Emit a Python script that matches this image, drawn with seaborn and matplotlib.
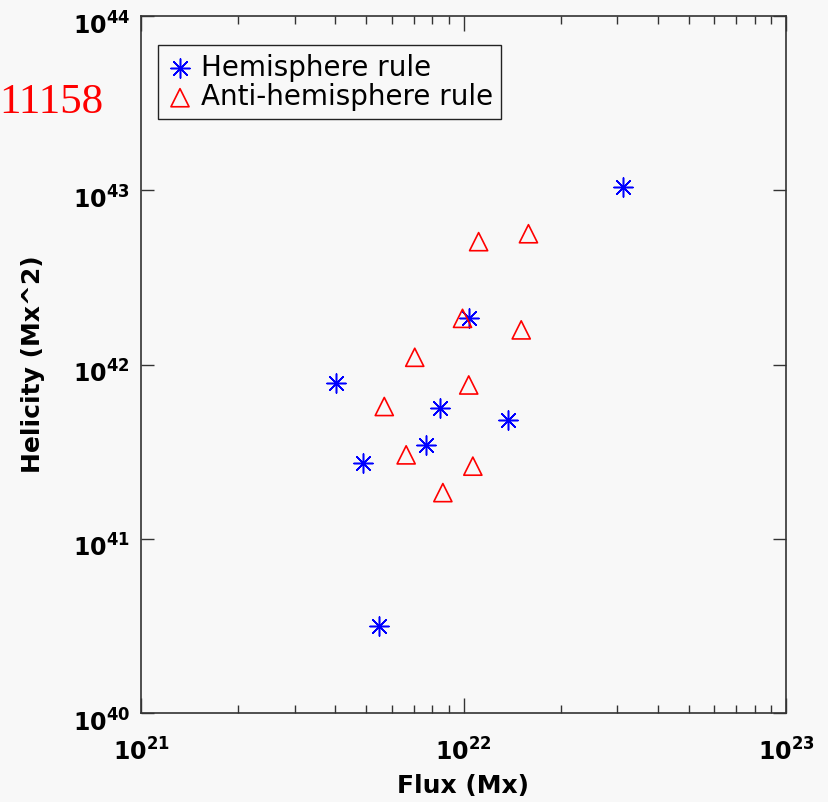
import numpy as np
import pandas as pd
import matplotlib
matplotlib.use("Agg")
import matplotlib.pyplot as plt
import matplotlib.ticker as mticker
import matplotlib.transforms as mtrans
import seaborn as sns

# ---- data ----
hemi_flux = [3.12e22, 1.04e22, 4.03e21, 8.48e21, 1.37e22, 7.67e21, 4.89e21, 5.48e21]
hemi_helicity = [1.05e43, 1.86e42, 7.8e41, 5.6e41, 4.78e41, 3.44e41, 2.71e41, 3.15e40]

anti_flux = [1.114e22, 1.59e22, 9.93e21, 1.51e22, 7.06e21, 1.038e22, 5.68e21, 6.64e21, 1.069e22, 8.63e21]
anti_helicity = [5.07e42, 5.63e42, 1.84e42, 1.58e42, 1.10e42, 7.63e41, 5.74e41, 3.03e41, 2.61e41, 1.84e41]

series_labels = ["Hemisphere rule", "Anti-hemisphere rule"]
x_decades = [21, 22, 23]
y_decades = [40, 41, 42, 43, 44]
region_label = "11158"

hemi = pd.DataFrame({"flux": hemi_flux, "helicity": hemi_helicity})
anti = pd.DataFrame({"flux": anti_flux, "helicity": anti_helicity})

sns.set_style("white")
plt.rcParams["text.color"] = "black"
plt.rcParams["axes.labelcolor"] = "black"
plt.rcParams["xtick.color"] = "black"
plt.rcParams["ytick.color"] = "black"

bg = "#f8f8f8"
fig = plt.figure(figsize=(8.29, 8.02), dpi=100, facecolor=bg)
ax = fig.add_axes([141 / 829, 1 - 713 / 802, (786 - 141) / 829, (713 - 16) / 802])
ax.set_facecolor(bg)

sns.scatterplot(data=hemi, x="flux", y="helicity", ax=ax, marker=(8, 2, 0),
                s=190, color="#0000ff", linewidth=1.1, label=series_labels[0], zorder=3)
sns.scatterplot(data=anti, x="flux", y="helicity", ax=ax, marker="^",
                s=170, facecolor="none", edgecolor="#ff0000", linewidth=1.2,
                label=series_labels[1], zorder=3)

ax.set_xscale("log")
ax.set_yscale("log")
ax.set_xlim(10.0 ** x_decades[0], 10.0 ** x_decades[-1])
ax.set_ylim(10.0 ** y_decades[0], 10.0 ** y_decades[-1])

fmt = mticker.FuncFormatter(lambda v, p: r"$\mathbf{10^{%d}}$" % int(round(np.log10(v))))
ax.xaxis.set_major_locator(mticker.FixedLocator([10.0 ** d for d in x_decades]))
ax.yaxis.set_major_locator(mticker.FixedLocator([10.0 ** d for d in y_decades]))
ax.xaxis.set_minor_locator(mticker.LogLocator(base=10, subs=np.arange(2, 10), numticks=20))
ax.yaxis.set_minor_locator(mticker.NullLocator())
ax.xaxis.set_major_formatter(fmt)
ax.yaxis.set_major_formatter(fmt)
ax.xaxis.set_minor_formatter(mticker.NullFormatter())

ax.tick_params(axis="x", which="major", direction="in", length=11, width=1.0,
               top=True, bottom=True, labelsize=17, pad=18, color="#333333",
               labelcolor="black")
ax.tick_params(axis="x", which="minor", direction="in", length=6, width=1.0,
               top=True, bottom=True, color="#333333")
ax.tick_params(axis="y", which="major", direction="in", length=9.5, width=1.0,
               left=True, right=True, labelsize=17, pad=8, color="#333333",
               labelcolor="black")

shift = mtrans.ScaledTranslation(0, -7 / 100, fig.dpi_scale_trans)
for lbl in ax.get_yticklabels():
    lbl.set_transform(lbl.get_transform() + shift)

for sp in ax.spines.values():
    sp.set_color("#333333")
    sp.set_linewidth(1.2)

ax.set_xlabel("Flux (Mx)", fontsize=18, fontweight="bold", labelpad=6, color="black")
ax.set_ylabel("Helicity (Mx^2)", fontsize=18, fontweight="bold", labelpad=20, color="black")

leg = ax.legend(loc="upper left", bbox_to_anchor=(0.026, 0.958), borderaxespad=0,
                fontsize=20, frameon=True, fancybox=False, edgecolor="#222222",
                handlelength=1.0, handletextpad=0.25, labelspacing=0.05,
                borderpad=0.3, facecolor=bg, framealpha=1)
leg.get_frame().set_linewidth(1.0)
for t in leg.get_texts():
    t.set_color("black")

fig.text(103 / 829, 1 - 113 / 802, region_label, color="#ff0000", fontsize=31,
         family="Liberation Serif", ha="right", va="baseline")

fig.savefig("out.png", dpi=100, facecolor=bg)
